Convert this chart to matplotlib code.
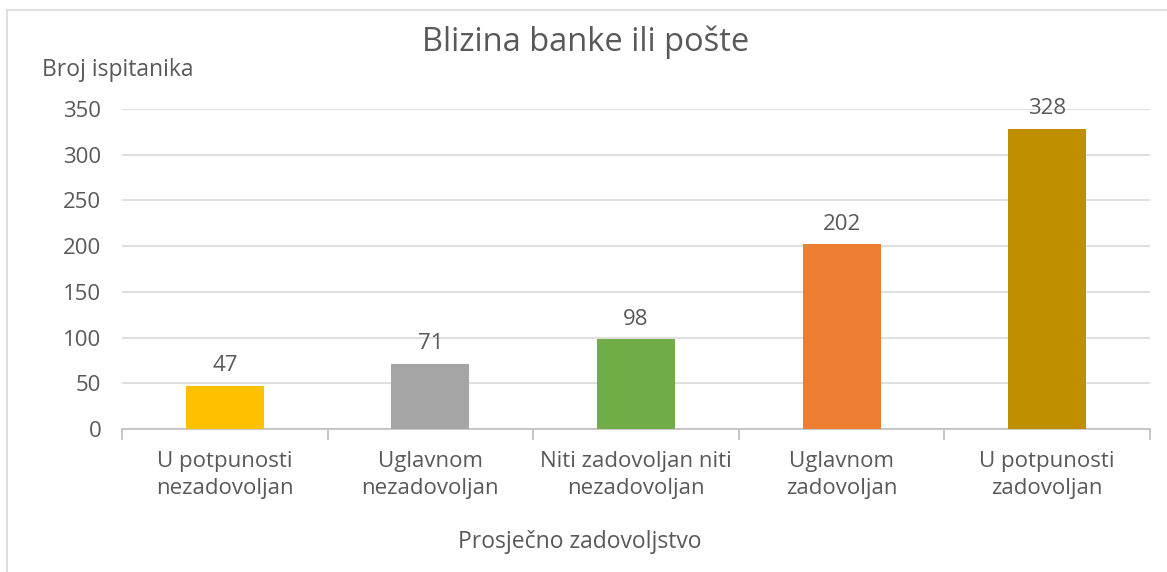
import matplotlib.pyplot as plt
from matplotlib.lines import Line2D

categories = ["U potpunosti\nnezadovoljan", "Uglavnom\nnezadovoljan",
              "Niti zadovoljan niti\nnezadovoljan", "Uglavnom\nzadovoljan",
              "U potpunosti\nzadovoljan"]
values = [47, 71, 98, 202, 328]
colors = ["#ffc000", "#a5a5a5", "#70ad47", "#ed7d31", "#bf8f00"]
yticks = [0, 50, 100, 150, 200, 250, 300, 350]

plt.rcParams["font.family"] = ["Open Sans", "DejaVu Sans"]
text_color = "#595959"

W, H = 1167, 572
fig = plt.figure(figsize=(W / 100, H / 100), dpi=100)
ax = fig.add_axes([122 / W, 1 - 429 / H, (1150 - 122) / W, (429 - 109) / H])

x = range(len(values))
ax.bar(x, values, width=0.38, color=colors, zorder=3)
for xi, v in zip(x, values):
    ax.annotate(str(v), (xi, v), xytext=(0, 7), textcoords="offset points",
                ha="center", va="bottom", fontsize=16, color=text_color)

ax.set_xlim(-0.5, len(values) - 0.5)
ax.set_ylim(0, 350)
ax.set_yticks(yticks)
ax.set_xticks(list(x))
ax.set_xticklabels(categories, fontsize=16, color=text_color, linespacing=1.35)
ax.set_xticks([i - 0.5 for i in range(len(values) + 1)], minor=True)
ax.tick_params(axis="x", which="major", length=0, pad=16)
ax.tick_params(axis="x", which="minor", length=8, color="#bfbfbf", width=1.2)
ax.tick_params(axis="y", length=0, labelsize=16, labelcolor=text_color, pad=15)

ax.grid(axis="y", color="#d9d9d9", linewidth=1.2, zorder=0)
for side in ["top", "right", "left"]:
    ax.spines[side].set_visible(False)
ax.spines["bottom"].set_color("#bfbfbf")
ax.spines["bottom"].set_linewidth(1.2)

fig.text(586 / W, 1 - 42 / H, "Blizina banke ili pošte", ha="center", va="center",
         fontsize=23.5, color=text_color)
fig.text(42 / W, 1 - 70 / H, "Broj ispitanika", ha="left", va="center",
         fontsize=16.5, color=text_color)
fig.text(580 / W, 1 - 542 / H, "Prosječno zadovoljstvo", ha="center", va="center",
         fontsize=16.5, color=text_color)

# chart frame
fig.add_artist(Line2D([7 / W, 7 / W], [0, 1 - 10 / H], transform=fig.transFigure,
                      color="#d9d9d9", linewidth=1.2))
fig.add_artist(Line2D([7 / W, 1], [1 - 10 / H, 1 - 10 / H], transform=fig.transFigure,
                      color="#d9d9d9", linewidth=1.2))

fig.savefig("out.png", dpi=100)
